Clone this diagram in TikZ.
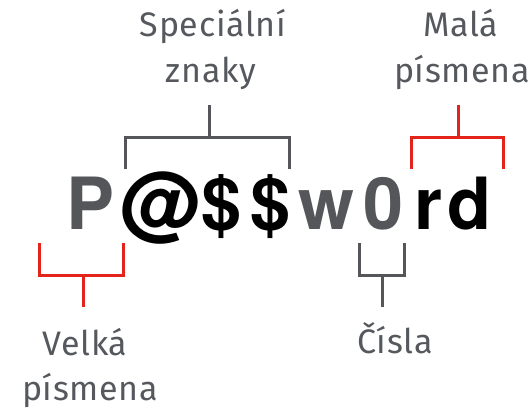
\documentclass[tikz,border=0pt]{standalone}
\usepackage{fontspec}
\setmainfont{Fira Sans}[LetterSpace=2]
\newfontfamily\bigfont{TeX Gyre Heros}
\definecolor{dgray}{HTML}{545659}
\definecolor{tgray}{HTML}{55595E}
\definecolor{bred}{HTML}{E4231B}
\begin{document}
\begin{tikzpicture}[x=1pt,y=-1pt,
  letter/.style={anchor=base,inner sep=0pt,font=\bigfont\bfseries\fontsize{72}{72}\selectfont},
  lbl/.style={anchor=base,inner sep=0pt,text=tgray,font=\fontsize{34}{34}\selectfont},
  brk/.style={line width=3pt,line cap=butt,line join=miter}]
\useasboundingbox (0,0) rectangle (532,409);
% password letters
\node[letter,text=dgray] (l1) at (91,229) {P};
\node[letter,text=black,font=\bigfont\bfseries\fontsize{82}{82}\selectfont] (l2) at (159,232) {@};
\node[letter,text=black] (l3) at (222,229) {\$};
\node[letter,text=black] (l4) at (271,229) {\$};
\node[letter,text=dgray] (l5) at (327,229) {w};
\node[letter,text=dgray] (l6) at (384,229) {0};
\node[letter,text=black] (l7) at (428,229) {r};
\node[letter,text=black] (l8) at (469,229) {d};
% labels
\node[lbl] (sp1) at (213,37) {Speciální};
\node[lbl] (sp2) at (211,83) {znaky};
\node[lbl] (ma1) at (461,37) {Malá};
\node[lbl] (ma2) at (462,83) {písmena};
\node[lbl] (ve1) at (85,355) {Velká};
\node[lbl] (ve2) at (90,400) {písmena};
\node[lbl] (ci1) at (395,353) {Čísla};
% brackets
\coordinate (spS) at (209,105);
\coordinate (maS) at (458,105);
\coordinate (veS) at (83,307);
\coordinate (ciS) at (382,307);
\draw[brk,dgray] (125,169) |- (289,137) -- (289,169);
\draw[brk,dgray] (209,137) -- (spS);
\draw[brk,bred] (411,169) |- (503,137) -- (503,169);
\draw[brk,bred] (458,137) -- (maS);
\draw[brk,bred] (39,243) |- (123,275) -- (123,243);
\draw[brk,bred] (83,275) -- (veS);
\draw[brk,dgray] (359,243) |- (404,275) -- (404,243);
\draw[brk,dgray] (382,275) -- (ciS);
\end{tikzpicture}
\end{document}
